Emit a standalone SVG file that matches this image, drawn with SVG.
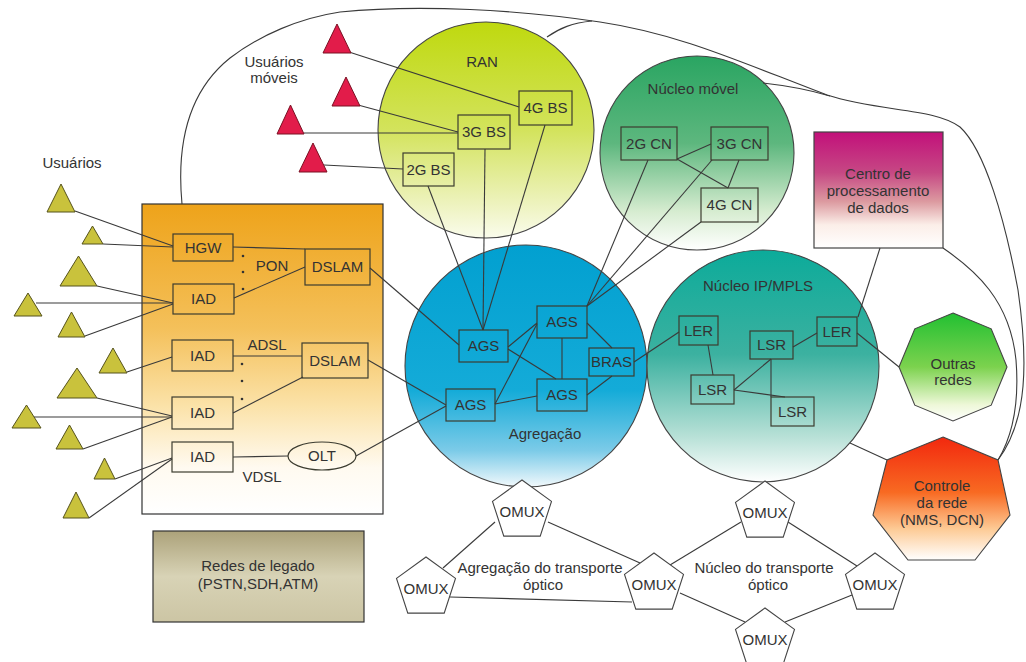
<svg xmlns="http://www.w3.org/2000/svg" width="1026" height="662" viewBox="0 0 1026 662">
<defs>
<style>
.t{font-family:"Liberation Sans",Arial,sans-serif;font-size:15px;fill:#333;text-anchor:middle}
.bx{fill:none;stroke:#3c3c30;stroke-width:1.2}
.ln{fill:none;stroke:#3a3a3a;stroke-width:1.1}
.cir{stroke:#444;stroke-width:1.1}
.tri{fill:#c9c23c;stroke:#55521c;stroke-width:1}
.rtri{fill:#e21c4a;stroke:#7a1022;stroke-width:1}
.omux{fill:#fff;stroke:#444;stroke-width:1.1}
</style>
<linearGradient id="gBox" x1="0" y1="0" x2="0" y2="1">
<stop offset="0" stop-color="#eea31a"/><stop offset="0.4" stop-color="#f4c05a"/><stop offset="0.65" stop-color="#fbe2a8"/><stop offset="0.85" stop-color="#fffaf0"/><stop offset="1" stop-color="#ffffff"/>
</linearGradient>
<linearGradient id="gRan" x1="0" y1="0" x2="0" y2="1">
<stop offset="0" stop-color="#bfd90e"/><stop offset="0.5" stop-color="#d3e35c"/><stop offset="0.85" stop-color="#eef3c0"/><stop offset="1" stop-color="#fafcec"/>
</linearGradient>
<linearGradient id="gMov" x1="0" y1="0" x2="0" y2="1">
<stop offset="0" stop-color="#2aa562"/><stop offset="0.45" stop-color="#5db77e"/><stop offset="0.8" stop-color="#d6ecd0"/><stop offset="1" stop-color="#ffffff"/>
</linearGradient>
<linearGradient id="gAgr" x1="0" y1="0" x2="0" y2="1">
<stop offset="0" stop-color="#02a0d0"/><stop offset="0.6" stop-color="#14abd8"/><stop offset="0.85" stop-color="#7ccbe8"/><stop offset="1" stop-color="#f2f9fc"/>
</linearGradient>
<linearGradient id="gIp" x1="0" y1="0" x2="0" y2="1">
<stop offset="0" stop-color="#0cab9a"/><stop offset="0.45" stop-color="#3cb1a0"/><stop offset="0.8" stop-color="#b6e0d6"/><stop offset="1" stop-color="#ffffff"/>
</linearGradient>
<linearGradient id="gCentro" x1="0" y1="0" x2="0" y2="1">
<stop offset="0" stop-color="#c2107a"/><stop offset="0.35" stop-color="#c64884"/><stop offset="0.6" stop-color="#dc9aa0"/><stop offset="0.8" stop-color="#fbeee8"/><stop offset="1" stop-color="#ffffff"/>
</linearGradient>
<linearGradient id="gOut" x1="0" y1="0" x2="0" y2="1">
<stop offset="0" stop-color="#22c032"/><stop offset="0.5" stop-color="#7cd24e"/><stop offset="0.85" stop-color="#eef8d8"/><stop offset="1" stop-color="#ffffff"/>
</linearGradient>
<linearGradient id="gCtl" x1="0" y1="0" x2="0" y2="1">
<stop offset="0" stop-color="#f2280e"/><stop offset="0.45" stop-color="#f86a22"/><stop offset="0.75" stop-color="#fdcb96"/><stop offset="1" stop-color="#ffffff"/>
</linearGradient>
<linearGradient id="gLeg" x1="0" y1="0" x2="0" y2="1">
<stop offset="0" stop-color="#aca27a"/><stop offset="0.5" stop-color="#d8d3b6"/><stop offset="1" stop-color="#ccc5a4"/>
</linearGradient>
<polygon id="pent" points="0,-31 29.5,-9.6 18.2,25.1 -18.2,25.1 -29.5,-9.6"/>
</defs>

<rect width="1026" height="662" fill="#fff"/>

<!-- containers -->
<g id="redes-fixas"><rect x="142" y="204" width="241" height="310" fill="url(#gBox)" stroke="#333" stroke-width="1.2"/></g>
<g id="ran"><circle cx="486" cy="130" r="108" fill="url(#gRan)" class="cir"/><text class="t" x="482" y="67">RAN</text></g>
<g id="nucleo-movel"><circle cx="697" cy="153" r="97" fill="url(#gMov)" class="cir"/><text class="t" x="693" y="94">Núcleo móvel</text></g>
<g id="agregacao"><circle cx="526" cy="366" r="121" fill="url(#gAgr)" class="cir"/><text class="t" x="545" y="439">Agregação</text></g>
<g id="nucleo-ip"><circle cx="763" cy="366" r="116" fill="url(#gIp)" class="cir"/><text class="t" x="758" y="291">Núcleo IP/MPLS</text></g>
<g id="centro-dados"><rect x="814" y="132" width="129" height="116" fill="url(#gCentro)" stroke="#444" stroke-width="1.2"/>
<text class="t" x="878" y="179">Centro de</text><text class="t" x="878" y="196">processamento</text><text class="t" x="878" y="213">de dados</text></g>
<g id="outras-redes"><polygon points="953,313 991.2,328.8 1007,367 991.2,405.2 953,421 914.8,405.2 899,367 914.8,328.8" fill="url(#gOut)" stroke="#444" stroke-width="1.1"/>
<text class="t" x="953" y="369">Outras</text><text class="t" x="953" y="385">redes</text></g>
<g id="controle-rede"><polygon points="943,437 998,460 1010,515 975,560 908,560 873,515 887,460" fill="url(#gCtl)" stroke="#444" stroke-width="1.1"/>
<text class="t" x="942" y="491">Controle</text><text class="t" x="942" y="508">da rede</text><text class="t" x="942" y="525">(NMS, DCN)</text></g>
<g id="redes-legado"><rect x="153" y="531" width="211" height="91" fill="url(#gLeg)" stroke="#333" stroke-width="1.2"/>
<text class="t" x="258" y="571">Redes de legado</text><text class="t" x="258" y="589">(PSTN,SDH,ATM)</text></g>

<!-- connectors -->
<g id="connectors" class="ln">
<path d="M182,204 C176,140 190,90 230,58 C260,35 300,18 340,12 C420,4 520,10 600,22 C680,34 740,62 827,95 C880,112 935,108 960,127 C985,150 1005,220 1018,290 C1028,360 1028,420 998,460"/>
<path d="M547,37 C560,28 572,23 592,21"/>
<path d="M763,83 C790,86 810,90 830,96"/>
<path d="M943,248 C975,270 1010,300 1016,360 C1020,410 1010,440 998,460"/>
<path d="M850,443 L887,460"/>
<path d="M858,317 L880,248"/>
<path d="M857,333 L899,367"/>
<!-- users to home devices -->
<path d="M75,211 L173,246"/><path d="M103,244 L173,247"/>
<path d="M97,286 L173,303"/><path d="M36,303 L173,303"/><path d="M85,336 L173,304"/>
<path d="M127,372 L172,357"/>
<path d="M97,398 L172,416"/><path d="M34,417 L172,417"/><path d="M83,449 L172,417"/>
<path d="M115,479 L172,458"/><path d="M89,518 L172,459"/>
<!-- access -->
<path d="M233,247 L305,249"/><path d="M234,298 L305,267"/>
<path d="M233,356 L302,356"/><path d="M233,413 L303,377"/>
<path d="M233,457 L288,456"/>
<path d="M370,268 L459,345"/><path d="M368,360 L446,405"/><path d="M356,456 L446,406"/>
<!-- mobile users -->
<path d="M349,52 L519,107"/><path d="M358,105 L458,132"/><path d="M304,133 L458,133"/><path d="M324,165 L403,169"/>
<!-- RAN to AGS -->
<path d="M428,186 L483,330"/><path d="M485,149 L483,330"/><path d="M545,125 L483,330"/>
<!-- core mobile -->
<path d="M677,159 L711,144"/><path d="M677,159 L728,188"/><path d="M739,160 L728,188"/>
<path d="M648,160 L587,306"/><path d="M712,160 L587,306"/><path d="M701,222 L587,306"/>
<!-- aggregation -->
<path d="M508,347 L537,323"/><path d="M508,349 L556,379"/>
<path d="M495,404 L537,324"/><path d="M495,404 L537,396"/>
<path d="M562,338 L562,379"/>
<path d="M587,323 L612,348"/><path d="M587,395 L612,376"/>
<path d="M634,362 L679,332"/>
<!-- IP/MPLS -->
<path d="M708,345 L713,375"/><path d="M734,390 L771,359"/><path d="M734,390 L785,397"/>
<path d="M771,359 L771,397"/><path d="M793,347 L817,333"/>
<!-- optical -->
<path d="M495,522 L443,568"/><path d="M548,522 L640,563"/>
<path d="M450,597 L632,602"/>
<path d="M670,565 L741,522"/><path d="M788,522 L857,566"/>
<path d="M680,593 L745,622"/><path d="M852,595 L785,622"/>
</g>

<!-- user labels -->
<g id="usuarios-label"><text class="t" x="72" y="168">Usuários</text></g>
<g id="usuarios-moveis-label"><text class="t" x="274" y="67">Usuários</text><text class="t" x="274" y="83">móveis</text></g>

<!-- fixed users -->
<g id="usuarios-fixos">
<polygon class="tri" points="61,184 75,212 47,212"/>
<polygon class="tri" points="92.5,226 103,244 82,244"/>
<polygon class="tri" points="78.5,256 97,286 60,286"/>
<polygon class="tri" points="28,293 42,316 14,316"/>
<polygon class="tri" points="71.5,312 85,337 58,337"/>
<polygon class="tri" points="113,348 127,373 99,373"/>
<polygon class="tri" points="77,368 97,398 57,398"/>
<polygon class="tri" points="26.5,405 41,428 12,428"/>
<polygon class="tri" points="69.5,425 83,449 56,449"/>
<polygon class="tri" points="104.5,458 115,479 94,479"/>
<polygon class="tri" points="76,492 89,518 63,518"/>
</g>
<!-- mobile users -->
<g id="usuarios-moveis">
<polygon class="rtri" points="337,24 351,53 323,53"/>
<polygon class="rtri" points="346,77 360,106 332,106"/>
<polygon class="rtri" points="290.5,105 304,134 277,134"/>
<polygon class="rtri" points="313,143 327,172 299,172"/>
</g>

<!-- access nodes -->
<g id="hgw"><rect class="bx" x="173" y="234" width="60" height="27"/><text class="t" x="203" y="253">HGW</text></g>
<g id="iad1"><rect class="bx" x="173" y="284" width="61" height="30"/><text class="t" x="203.5" y="304">IAD</text></g>
<g id="dslam1"><rect class="bx" x="305" y="249" width="65" height="36"/><text class="t" x="337.5" y="272">DSLAM</text></g>
<g id="iad2"><rect class="bx" x="172" y="340" width="61" height="31"/><text class="t" x="202.5" y="361">IAD</text></g>
<g id="dslam2"><rect class="bx" x="302" y="343" width="66" height="35"/><text class="t" x="335" y="366">DSLAM</text></g>
<g id="iad3"><rect class="bx" x="172" y="397" width="61" height="32"/><text class="t" x="202.5" y="418">IAD</text></g>
<g id="iad4"><rect class="bx" x="172" y="442" width="61" height="30"/><text class="t" x="202.5" y="462">IAD</text></g>
<g id="olt"><ellipse class="bx" cx="322" cy="456" rx="34" ry="14"/><text class="t" x="322" y="461">OLT</text></g>
<g id="access-labels">
<text class="t" x="272" y="271">PON</text><text class="t" x="267" y="350">ADSL</text><text class="t" x="262" y="482">VDSL</text>
<g fill="#333"><circle cx="243" cy="256" r="1.3"/><circle cx="243" cy="272" r="1.3"/><circle cx="243" cy="289" r="1.3"/>
<circle cx="242" cy="364" r="1.3"/><circle cx="242" cy="381" r="1.3"/><circle cx="242" cy="399" r="1.3"/></g>
</g>

<!-- RAN nodes -->
<g id="bs4g"><rect class="bx" x="519" y="91" width="53" height="34"/><text class="t" x="545.5" y="113">4G BS</text></g>
<g id="bs3g"><rect class="bx" x="458" y="115" width="52" height="34"/><text class="t" x="484" y="137">3G BS</text></g>
<g id="bs2g"><rect class="bx" x="403" y="153" width="51" height="33"/><text class="t" x="428.5" y="175">2G BS</text></g>

<!-- mobile core nodes -->
<g id="cn2g"><rect class="bx" x="621" y="127" width="56" height="33"/><text class="t" x="649" y="149">2G CN</text></g>
<g id="cn3g"><rect class="bx" x="711" y="127" width="57" height="33"/><text class="t" x="739.5" y="149">3G CN</text></g>
<g id="cn4g"><rect class="bx" x="701" y="188" width="57" height="34"/><text class="t" x="729.5" y="210">4G CN</text></g>

<!-- aggregation nodes -->
<g id="ags1"><rect class="bx" x="459" y="330" width="49" height="32"/><text class="t" x="483.5" y="351">AGS</text></g>
<g id="ags2"><rect class="bx" x="446" y="389" width="49" height="32"/><text class="t" x="470.5" y="410">AGS</text></g>
<g id="ags3"><rect class="bx" x="537" y="306" width="50" height="32"/><text class="t" x="562" y="327">AGS</text></g>
<g id="ags4"><rect class="bx" x="537" y="379" width="50" height="32"/><text class="t" x="562" y="400">AGS</text></g>
<g id="bras"><rect class="bx" x="589" y="348" width="45" height="28"/><text class="t" x="611.5" y="367">BRAS</text></g>

<!-- IP/MPLS nodes -->
<g id="ler1"><rect class="bx" x="679" y="316" width="39" height="29"/><text class="t" x="698.5" y="336">LER</text></g>
<g id="ler2"><rect class="bx" x="817" y="317" width="40" height="29"/><text class="t" x="837" y="337">LER</text></g>
<g id="lsr1"><rect class="bx" x="750" y="331" width="43" height="28"/><text class="t" x="771.5" y="350">LSR</text></g>
<g id="lsr2"><rect class="bx" x="691" y="375" width="43" height="29"/><text class="t" x="712.5" y="395">LSR</text></g>
<g id="lsr3"><rect class="bx" x="771" y="397" width="43" height="29"/><text class="t" x="792.5" y="417">LSR</text></g>

<!-- optical transport -->
<g id="omux1"><use href="#pent" class="omux" x="522" y="511"/><text class="t" x="522" y="517">OMUX</text></g>
<g id="omux2"><use href="#pent" class="omux" x="426" y="588"/><text class="t" x="426" y="594">OMUX</text></g>
<g id="omux3"><use href="#pent" class="omux" x="654" y="584"/><text class="t" x="654" y="590">OMUX</text></g>
<g id="omux4"><use href="#pent" class="omux" x="765" y="512"/><text class="t" x="765" y="518">OMUX</text></g>
<g id="omux5"><use href="#pent" class="omux" x="875" y="584"/><text class="t" x="875" y="590">OMUX</text></g>
<g id="omux6"><use href="#pent" class="omux" x="765" y="639"/><text class="t" x="765" y="645">OMUX</text></g>
<g id="optical-labels">
<text class="t" x="540" y="573">Agregação do transporte</text><text class="t" x="543" y="590">óptico</text>
<text class="t" x="764" y="573">Núcleo do transporte</text><text class="t" x="768" y="590">óptico</text>
</g>
</svg>
